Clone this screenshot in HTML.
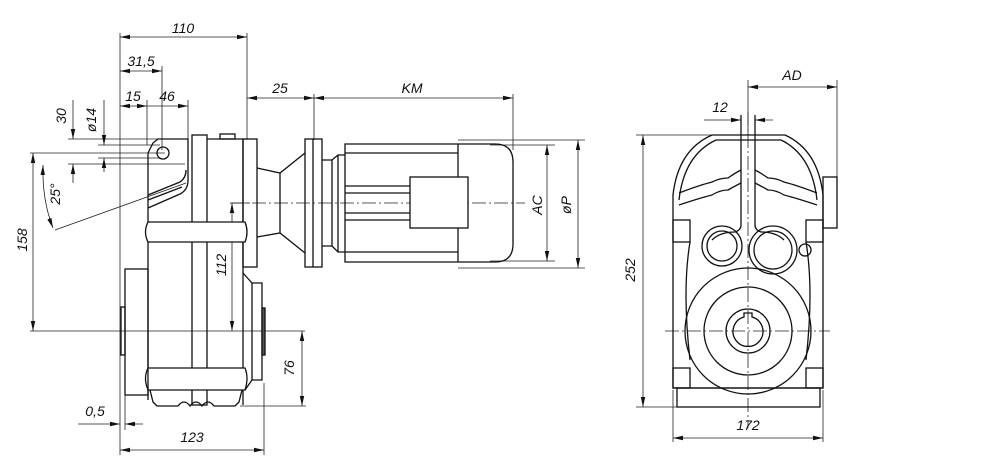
<!DOCTYPE html>
<html><head><meta charset="utf-8"><style>
html,body{margin:0;padding:0;background:#fff;}
svg{display:block}
text{font-family:"Liberation Sans",sans-serif;font-style:italic;font-size:14px;fill:#111}
.m{stroke:#111;stroke-width:1.3;fill:none}
.d{stroke:#222;stroke-width:0.8;fill:none}
.c{stroke:#222;stroke-width:0.8;fill:none;stroke-dasharray:14 3 2 3}
</style></head><body>
<svg width="990" height="472" viewBox="0 0 990 472" xmlns="http://www.w3.org/2000/svg">
<defs>
<marker id="a" viewBox="0 0 10 6" refX="10" refY="3" markerWidth="10" markerHeight="6" orient="auto-start-reverse" markerUnits="userSpaceOnUse"><path d="M0,0.8 L10,3 L0,5.2z" fill="#111"/></marker>
</defs>
<!-- ===== LEFT VIEW ===== -->
<!-- extension lines -->
<g class="d">
<line x1="120" y1="33" x2="120" y2="455"/>
<line x1="247" y1="33" x2="247" y2="140"/>
<line x1="162" y1="66" x2="162" y2="150"/>
<line x1="147" y1="100" x2="147" y2="145"/>
<line x1="188" y1="100" x2="188" y2="140"/>
<line x1="314" y1="94" x2="314" y2="140"/>
<line x1="513" y1="94" x2="513" y2="150"/>
<line x1="264" y1="383" x2="264" y2="455"/>
<line x1="125" y1="395" x2="125" y2="430"/>
<line x1="240" y1="406" x2="306" y2="406"/>
<line x1="30" y1="331" x2="305" y2="331"/>
<line x1="30" y1="153" x2="165" y2="153"/>
<line x1="68" y1="139" x2="160" y2="139"/>
<line x1="68" y1="164" x2="185" y2="164"/>
<line x1="98" y1="145" x2="160" y2="145"/>
<line x1="98" y1="158" x2="160" y2="158"/>
<line x1="55" y1="230" x2="186" y2="183"/>
<line x1="232" y1="203" x2="250" y2="203"/>
<line x1="458" y1="140" x2="585" y2="140"/>
<line x1="458" y1="268" x2="585" y2="268"/>
<line x1="490" y1="145" x2="555" y2="145"/>
<line x1="490" y1="261" x2="555" y2="261"/>
</g>
<!-- dimension lines -->
<g class="d">
<line x1="120" y1="37" x2="247" y2="37" marker-start="url(#a)" marker-end="url(#a)"/>
<line x1="120" y1="71" x2="162" y2="71" marker-start="url(#a)" marker-end="url(#a)"/>
<line x1="120" y1="106" x2="147" y2="106" marker-start="url(#a)" marker-end="url(#a)"/>
<line x1="147" y1="106" x2="188" y2="106" marker-end="url(#a)"/>
<line x1="247" y1="98" x2="314" y2="98" marker-start="url(#a)" marker-end="url(#a)"/>
<line x1="314" y1="98" x2="513" y2="98" marker-start="url(#a)" marker-end="url(#a)"/>
<line x1="73" y1="100" x2="73" y2="139" marker-end="url(#a)"/>
<line x1="73" y1="183" x2="73" y2="164" marker-end="url(#a)"/>
<line x1="104" y1="100" x2="104" y2="145" marker-end="url(#a)"/>
<line x1="104" y1="172" x2="104" y2="158" marker-end="url(#a)"/>
<line x1="33" y1="153" x2="33" y2="331" marker-start="url(#a)" marker-end="url(#a)"/>
<line x1="232" y1="203" x2="232" y2="331" marker-start="url(#a)" marker-end="url(#a)"/>
<line x1="302" y1="331" x2="302" y2="406" marker-start="url(#a)" marker-end="url(#a)"/>
<line x1="78" y1="424" x2="120" y2="424" marker-end="url(#a)"/>
<line x1="143" y1="424" x2="125" y2="424" marker-end="url(#a)"/>
<line x1="120" y1="450" x2="264" y2="450" marker-start="url(#a)" marker-end="url(#a)"/>
<line x1="547" y1="145" x2="547" y2="261" marker-start="url(#a)" marker-end="url(#a)"/>
<line x1="578" y1="140" x2="578" y2="268" marker-start="url(#a)" marker-end="url(#a)"/>
<path d="M43,165 Q42,200 53,228" marker-start="url(#a)" marker-end="url(#a)"/>
</g>
<line class="c" x1="230" y1="203" x2="525" y2="203"/>
<!-- housing -->
<g class="m">
<path d="M148,205 L148,153 L153,143 L158,139 L188,139 L188,180 Q188,190 180,194 L148,208"/>
<path d="M148,195 L180,182 Q186,178 186,170"/>
<path d="M148,200 L182,187"/>
<circle cx="163" cy="153" r="6"/>
<line x1="148" y1="205" x2="148" y2="400"/>
<rect x="192" y="135" width="15" height="270"/>
<path d="M207,139 L243,139 L243,405"/>
<rect x="220" y="134" width="15" height="5"/>
<rect x="243" y="139" width="14" height="128"/>
<path d="M148,222 L245,222 Q249,232 245,242 L148,242 Q143,232 148,222z" fill="#fff"/>
<path d="M148,368 L245,368 Q249,378 245,390 L148,390 Q143,378 148,368z" fill="#fff"/>
<path d="M150,390 L153,402 L157,406 L178,406 Q184,398 190,406 Q196,398 202,406 Q208,398 214,406 L235,406 L239,402 L242,390"/>
<rect x="125" y="269" width="23" height="126"/>
<rect x="121" y="307" width="4" height="48"/>
<path d="M243,273 L252,283 L262,283 L262,380 L252,380 L245,390"/>
<line x1="252" y1="283" x2="252" y2="380"/>
<rect x="262" y="308" width="3" height="47" fill="#555"/>
<!-- adapter -->
<path d="M257,168 L280,173 L305,153"/>
<path d="M257,237 L280,233 L305,253"/>
<line x1="280" y1="173" x2="280" y2="233"/>
<rect x="305" y="139" width="17" height="128"/>
<line x1="313" y1="139" x2="313" y2="267"/>
<!-- motor -->
<path d="M322,160 L332,160 L338,155 L345,155"/>
<path d="M322,246 L332,246 L338,252 L345,252"/>
<line x1="332" y1="160" x2="332" y2="246"/>
<line x1="338" y1="155" x2="338" y2="252"/>
<path d="M345,144 L495,144 Q513,144 513,162 L513,244 Q513,262 495,262 L345,262z"/>
<line x1="458" y1="144" x2="458" y2="262"/>
<line x1="345" y1="153" x2="458" y2="153"/>
<line x1="345" y1="252" x2="458" y2="252"/>
<line x1="345" y1="186" x2="410" y2="186"/>
<line x1="345" y1="193" x2="410" y2="193"/>
<line x1="345" y1="213" x2="410" y2="213"/>
<line x1="345" y1="220" x2="410" y2="220"/>
<rect x="410" y="177" width="58" height="51" fill="#fff"/>
</g>
<!-- labels -->
<text x="183" y="33" text-anchor="middle">110</text>
<text x="141" y="66" text-anchor="middle">31,5</text>
<text x="133" y="101" text-anchor="middle">15</text>
<text x="167" y="101" text-anchor="middle">46</text>
<text x="280" y="93" text-anchor="middle">25</text>
<text x="412" y="93" text-anchor="middle">KM</text>
<text transform="translate(66,116) rotate(-90)" text-anchor="middle">30</text>
<text transform="translate(96,120) rotate(-90)" text-anchor="middle">ø14</text>
<text transform="translate(60,194) rotate(-90)" text-anchor="middle">25°</text>
<text transform="translate(27,240) rotate(-90)" text-anchor="middle">158</text>
<text transform="translate(226,265) rotate(-90)" text-anchor="middle">112</text>
<text transform="translate(294,368) rotate(-90)" text-anchor="middle">76</text>
<text x="95" y="416" text-anchor="middle">0,5</text>
<text x="192" y="442" text-anchor="middle">123</text>
<text transform="translate(542,205) rotate(-90)" text-anchor="middle">AC</text>
<text transform="translate(571,205) rotate(-90)" text-anchor="middle">øP</text>
<!-- ===== RIGHT VIEW ===== -->
<g class="d">
<line x1="748" y1="80" x2="748" y2="135"/>
<line x1="837" y1="80" x2="837" y2="178"/>
<line x1="748" y1="87" x2="837" y2="87" marker-start="url(#a)" marker-end="url(#a)"/>
<line x1="704" y1="120" x2="741" y2="120" marker-end="url(#a)"/>
<line x1="773" y1="120" x2="755" y2="120" marker-end="url(#a)"/>
<line x1="636" y1="135" x2="712" y2="135"/>
<line x1="636" y1="407" x2="677" y2="407"/>
<line x1="643" y1="135" x2="643" y2="407" marker-start="url(#a)" marker-end="url(#a)"/>
<line x1="673" y1="390" x2="673" y2="442"/>
<line x1="823" y1="390" x2="823" y2="442"/>
<line x1="673" y1="438" x2="823" y2="438" marker-start="url(#a)" marker-end="url(#a)"/>
</g>
<line class="c" x1="748" y1="112" x2="748" y2="428"/>
<line class="c" x1="665" y1="331" x2="830" y2="331"/>
<g class="m">
<path d="M712,135 L785,135 Q818,150 823,195 L823,388 L673,388 L673,195 Q678,150 712,135z"/>
<path d="M716,140 L781,140 Q812,155 817,200"/>
<path d="M716,140 Q684,155 679,200"/>
<path d="M741,115 L741,225 Q741,230 735,232 Q720,232 712,240"/>
<path d="M755,115 L755,225 Q755,230 761,232 Q776,232 784,240"/>
<path d="M679,193 Q700,185 712,182 Q720,178 728,178 Q735,173 741,170"/>
<path d="M679,205 Q700,198 712,195 Q720,190 728,190 Q735,186 741,183"/>
<path d="M817,193 Q796,185 784,182 Q776,178 768,178 Q761,173 755,170"/>
<path d="M817,205 Q796,198 784,195 Q776,190 768,190 Q761,186 755,183"/>
<rect x="823" y="177" width="14" height="51"/>
<rect x="673" y="220" width="17" height="22"/>
<rect x="806" y="220" width="17" height="22"/>
<rect x="673" y="368" width="17" height="20"/>
<rect x="806" y="368" width="17" height="20"/>
<path d="M690,242 Q682,290 690,360"/>
<path d="M806,242 Q814,290 806,360"/>
<rect x="677" y="388" width="143" height="19"/>
<circle cx="722" cy="246" r="20"/>
<circle cx="722" cy="246" r="15"/>
<circle cx="773" cy="250" r="24"/>
<circle cx="773" cy="250" r="19"/>
<circle cx="805" cy="250" r="6"/>
<circle cx="748" cy="331" r="63"/>
<circle cx="748" cy="331" r="44"/>
<circle cx="748" cy="331" r="22"/>
<path d="M744,317 L744,313 L752,313 L752,317 A15,15 0 1 1 744,317z"/>
</g>
<text x="792" y="80" text-anchor="middle">AD</text>
<text x="720" y="112" text-anchor="middle">12</text>
<text transform="translate(635,270) rotate(-90)" text-anchor="middle">252</text>
<text x="748" y="430" text-anchor="middle">172</text>
</svg>
</body></html>
